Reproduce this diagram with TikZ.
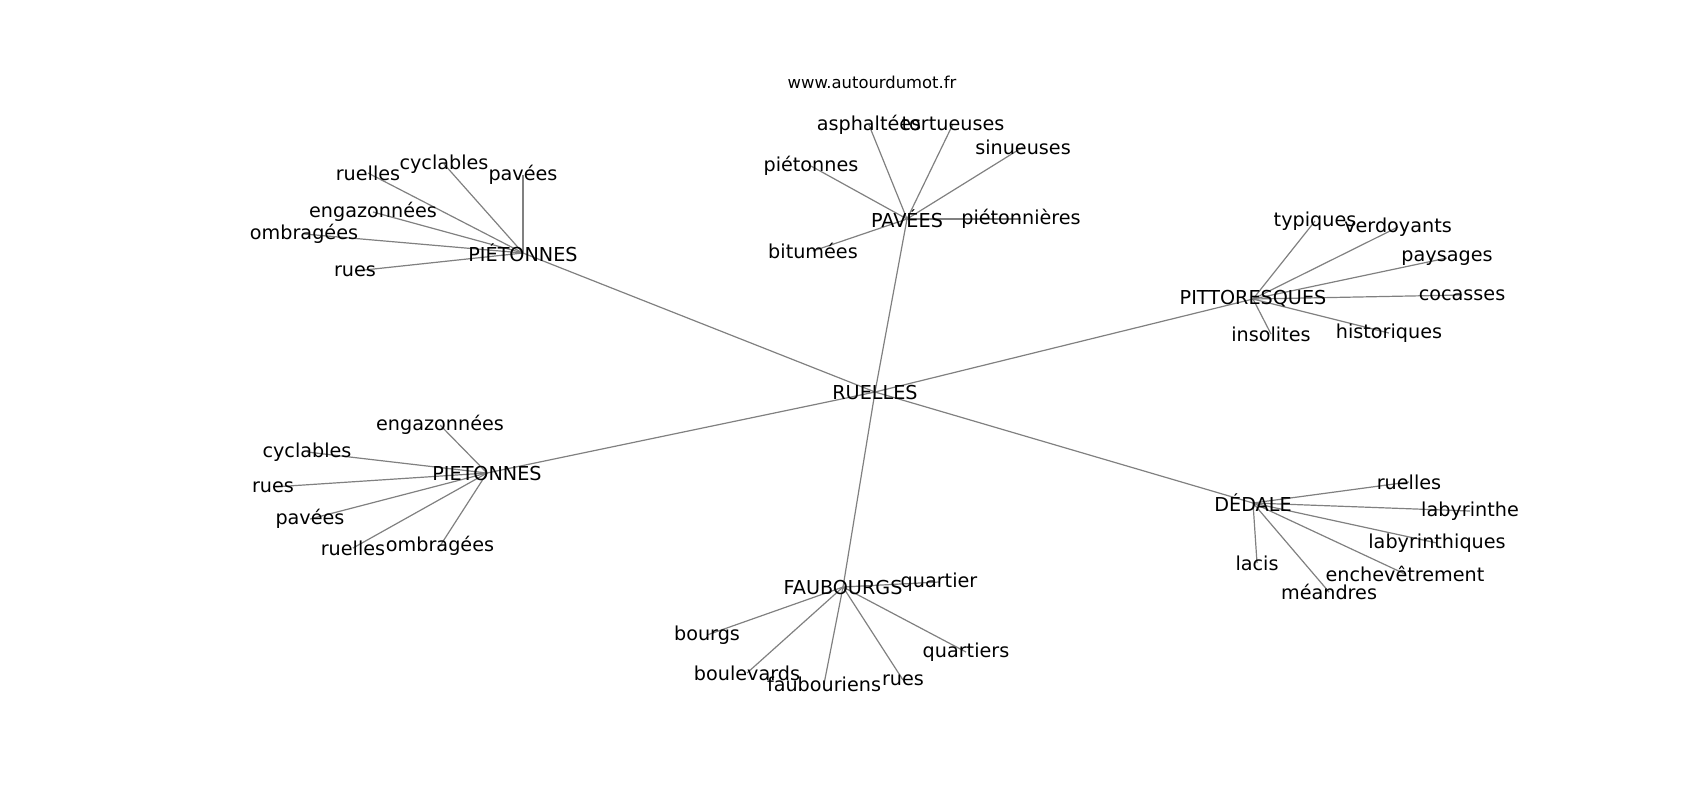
\documentclass[tikz,border=0pt]{standalone}
\usepackage{fontspec}
\setmainfont{DejaVu Sans}
\usetikzlibrary{backgrounds}
\tikzset{
  lbl/.style={font=\fontsize{9.6}{11}\selectfont, inner sep=0pt, anchor=center, text=black},
  wm/.style={font=\fontsize{8.2}{10}\selectfont, inner sep=0pt, anchor=center, text=black},
  edge/.style={draw=black!50, line width=0.6pt}
}
\begin{document}
\begin{tikzpicture}[x=0.5pt,y=-0.5pt]
\useasboundingbox (0,0) rectangle (1700,800);
\node[wm] (www) at (872,82) {www.autourdumot.fr};
% hubs
\node[lbl] (r)  at (875,392) {RUELLES};
\node[lbl] (p1) at (523,253) {PIÉTONNES};
\node[lbl] (pv) at (907,219) {PAVÉES};
\node[lbl] (pt) at (1253,299) {PITTORESQUES};
\node[lbl] (p2) at (487,473) {PIETONNES};
\node[lbl] (dd) at (1253,503) {DÉDALE};
\node[lbl] (fb) at (843,587) {FAUBOURGS};
% PIÉTONNES leaves
\node[lbl] (a1) at (368,173) {ruelles};
\node[lbl] (a2) at (444,164) {cyclables};
\node[lbl] (a3) at (523,175) {pavées};
\node[lbl] (a4) at (373,212) {engazonnées};
\node[lbl] (a5) at (304,234) {ombragées};
\node[lbl] (a6) at (355,271) {rues};
% PAVÉES leaves
\node[lbl] (b1) at (869,125) {asphaltées};
\node[lbl] (b2) at (953,124) {tortueuses};
\node[lbl] (b3) at (1023,147) {sinueuses};
\node[lbl] (b4) at (811,166) {piétonnes};
\node[lbl] (b5) at (1021,219) {piétonnières};
\node[lbl] (b6) at (813,251) {bitumées};
% PITTORESQUES leaves
\node[lbl] (c1) at (1315,221) {typiques};
\node[lbl] (c2) at (1398,227) {verdoyants};
\node[lbl] (c3) at (1447,258) {paysages};
\node[lbl] (c4) at (1462,295) {cocasses};
\node[lbl] (c5) at (1271,334) {insolites};
\node[lbl] (c6) at (1389,333) {historiques};
% PIETONNES leaves
\node[lbl] (d1) at (440,425) {engazonnées};
\node[lbl] (d2) at (307,452) {cyclables};
\node[lbl] (d3) at (273,487) {rues};
\node[lbl] (d4) at (310,519) {pavées};
\node[lbl] (d5) at (353,548) {ruelles};
\node[lbl] (d6) at (440,546) {ombragées};
% DÉDALE leaves
\node[lbl] (e1) at (1409,482) {ruelles};
\node[lbl] (e2) at (1470,511) {labyrinthe};
\node[lbl] (e3) at (1437,543) {labyrinthiques};
\node[lbl] (e4) at (1257,563) {lacis};
\node[lbl] (e5) at (1405,574) {enchevêtrement};
\node[lbl] (e6) at (1329,592) {méandres};
% FAUBOURGS leaves
\node[lbl] (f1) at (939,582) {quartier};
\node[lbl] (f2) at (707,635) {bourgs};
\node[lbl] (f3) at (966,652) {quartiers};
\node[lbl] (f4) at (747,673) {boulevards};
\node[lbl] (f5) at (824,684) {faubouriens};
\node[lbl] (f6) at (903,680) {rues};
\begin{scope}[on background layer]
  \foreach \h in {p1,pv,pt,p2,dd,fb} \draw[edge] (r.center) -- (\h.center);
  \foreach \l in {a1,a2,a3,a4,a5,a6} \draw[edge] (p1.center) -- (\l.center);
  \foreach \l in {b1,b2,b3,b4,b5,b6} \draw[edge] (pv.center) -- (\l.center);
  \foreach \l in {c1,c2,c3,c4,c5,c6} \draw[edge] (pt.center) -- (\l.center);
  \foreach \l in {d1,d2,d3,d4,d5,d6} \draw[edge] (p2.center) -- (\l.center);
  \foreach \l in {e1,e2,e3,e4,e5,e6} \draw[edge] (dd.center) -- (\l.center);
  \foreach \l in {f1,f2,f3,f4,f5,f6} \draw[edge] (fb.center) -- (\l.center);
\end{scope}
\end{tikzpicture}
\end{document}
